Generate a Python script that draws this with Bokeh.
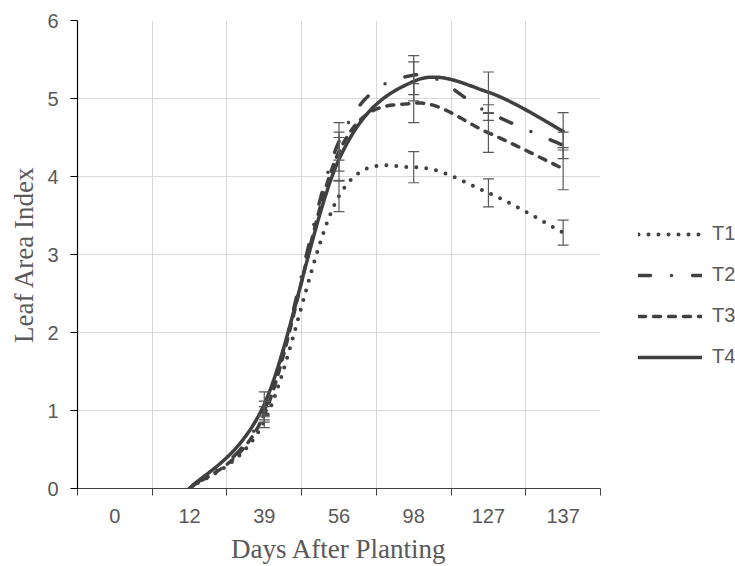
import numpy as np
from bokeh.plotting import figure
from bokeh.layouts import row
from bokeh.models import Range1d, FixedTicker, Legend, LegendItem, Whisker, TeeHead, ColumnDataSource
from bokeh.embed import file_html
from bokeh.resources import INLINE

# ---- data ----
days = ["0", "12", "39", "56", "98", "127", "137"]
t1 = [None, 0.0, 0.86, 3.75, 4.12, 3.79, 3.28]
t2 = [None, 0.0, 1.00, 4.45, 5.30, 4.82, 4.40]
t3 = [None, 0.0, 0.95, 4.32, 4.94, 4.56, 4.10]
t4 = [None, 0.0, 1.08, 4.22, 5.22, 5.08, 4.58]
err_t1 = [None, 0.0, 0.08, 0.20, 0.20, 0.18, 0.16]
err_t2 = [None, 0.0, 0.12, 0.24, 0.25, 0.10, 0.17]
err_t3 = [None, 0.0, 0.10, 0.25, 0.25, 0.25, 0.27]
err_t4 = [None, 0.0, 0.16, 0.28, 0.25, 0.26, 0.24]
names = ["T1", "T2", "T3", "T4"]
y_ticks = [0, 1, 2, 3, 4, 5, 6]

dashes = ["0 10", "12 21 0 21", "7 8", "solid"]
widths = [4, 3.5, 3.5, 3.5]
LINE = "#404040"
GRAY = "#595959"

centers = [i + 0.5 for i in range(len(days))]
bounds = list(range(len(days) + 1))


def smooth(xs, ys, n=40):
    """Excel-style smoothed line (Catmull-Rom Bezier) through the points."""
    P = np.array(list(zip(xs, ys)), dtype=float)
    m = len(P)
    out = []
    for i in range(m - 1):
        p0 = P[max(i - 1, 0)]
        p1 = P[i]
        p2 = P[i + 1]
        p3 = P[min(i + 2, m - 1)]
        c1 = p1 + (p2 - p0) / 6.0
        c2 = p2 - (p3 - p1) / 6.0
        t = np.linspace(0, 1, n)[:, None]
        seg = ((1 - t) ** 3) * p1 + 3 * ((1 - t) ** 2) * t * c1 + 3 * (1 - t) * t ** 2 * c2 + t ** 3 * p2
        out.append(seg if i == 0 else seg[1:])
    arr = np.vstack(out)
    return arr[:, 0], arr[:, 1]


p = figure(width=610, height=566, x_range=Range1d(0, len(days)), y_range=Range1d(0, 6),
           output_backend="svg", toolbar_location=None,
           min_border_left=77, min_border_right=10, min_border_top=20, min_border_bottom=76)
p.outline_line_color = None
p.background_fill_color = "white"

# axes
p.xaxis.ticker = FixedTicker(ticks=centers, minor_ticks=bounds)
p.xaxis.major_label_overrides = {c: d for c, d in zip(centers, days)}
p.xaxis.major_tick_out = 0
p.xaxis.major_tick_in = 0
p.xaxis.minor_tick_out = 7
p.xaxis.minor_tick_in = 0
p.xaxis.minor_tick_line_color = LINE
p.xaxis.axis_line_color = LINE
p.xaxis.major_label_standoff = 13
p.xaxis.axis_label = "Days After Planting"
p.xaxis.axis_label_standoff = 8

p.yaxis.ticker = FixedTicker(ticks=y_ticks)
p.yaxis.major_tick_out = 7
p.yaxis.major_tick_in = 0
p.yaxis.minor_tick_out = 0
p.yaxis.minor_tick_in = 0
p.yaxis.major_tick_line_color = "black"
p.yaxis.axis_line_color = "black"
p.yaxis.major_label_standoff = 12
p.yaxis.axis_label = "Leaf Area Index"
p.yaxis.axis_label_standoff = 5

for ax in (p.xaxis, p.yaxis):
    ax.major_label_text_font = "Liberation Sans"
    ax.major_label_text_font_size = "20px"
    ax.major_label_text_color = GRAY
    ax.axis_label_text_font = "Liberation Serif"
    ax.axis_label_text_font_size = "27px"
    ax.axis_label_text_font_style = "normal"
    ax.axis_label_text_color = GRAY
    ax.axis_line_width = 1.2

# grid at category boundaries
p.xgrid.ticker = FixedTicker(ticks=bounds[1:])
p.ygrid.ticker = FixedTicker(ticks=y_ticks[1:])
for g in (p.xgrid, p.ygrid):
    g.grid_line_color = "#d9d9d9"
    g.grid_line_width = 1

# legend lives in a small side figure (its frame is aligned with the main one)
pl = figure(width=125, height=566, x_range=Range1d(0, 1), y_range=Range1d(0, 1),
            x_axis_type=None, y_axis_type=None, output_backend="svg", toolbar_location=None,
            min_border_left=0, min_border_right=0, min_border_top=0, min_border_bottom=0)
pl.outline_line_color = None

items = []
for name, vals, errs, dash, lw in zip(names, [t1, t2, t3, t4], [err_t1, err_t2, err_t3, err_t4], dashes, widths):
    xs = [c for c, v in zip(centers, vals) if v is not None]
    ys = [v for v in vals if v is not None]
    sx, sy = smooth(xs, ys)
    style = dict(line_color=LINE, line_width=lw, line_dash=dash, line_cap="round")
    p.line(sx, sy, **style)
    # proxy renderer for the legend, kept outside the side figure's visible ranges
    r = pl.line(sx, sy, **style)
    items.append(LegendItem(label=name, renderers=[r]))
    bx = [c for c, v, e in zip(centers, vals, errs) if v is not None and e]
    up = [v + e for v, e in zip(vals, errs) if v is not None and e]
    lo = [v - e for v, e in zip(vals, errs) if v is not None and e]
    src = ColumnDataSource(dict(x=bx, upper=up, lower=lo))
    w = Whisker(source=src, base="x", upper="upper", lower="lower",
                line_color=GRAY, line_width=1.2,
                upper_head=TeeHead(size=11, line_color=GRAY, line_width=1.2),
                lower_head=TeeHead(size=11, line_color=GRAY, line_width=1.2))
    w.level = "overlay"
    p.add_layout(w)

pl.x_range = Range1d(100, 101)
pl.y_range = Range1d(100, 101)

legend = Legend(items=items, location=(28, 120), orientation="vertical",
                glyph_width=64, glyph_height=20, label_height=20, spacing=18,
                label_standoff=10, padding=0, margin=0,
                border_line_color=None, background_fill_alpha=0,
                label_text_font="Liberation Sans", label_text_font_size="20px",
                label_text_color=GRAY)
pl.add_layout(legend)

open("out.html", "w").write(file_html(row(p, pl), INLINE))
